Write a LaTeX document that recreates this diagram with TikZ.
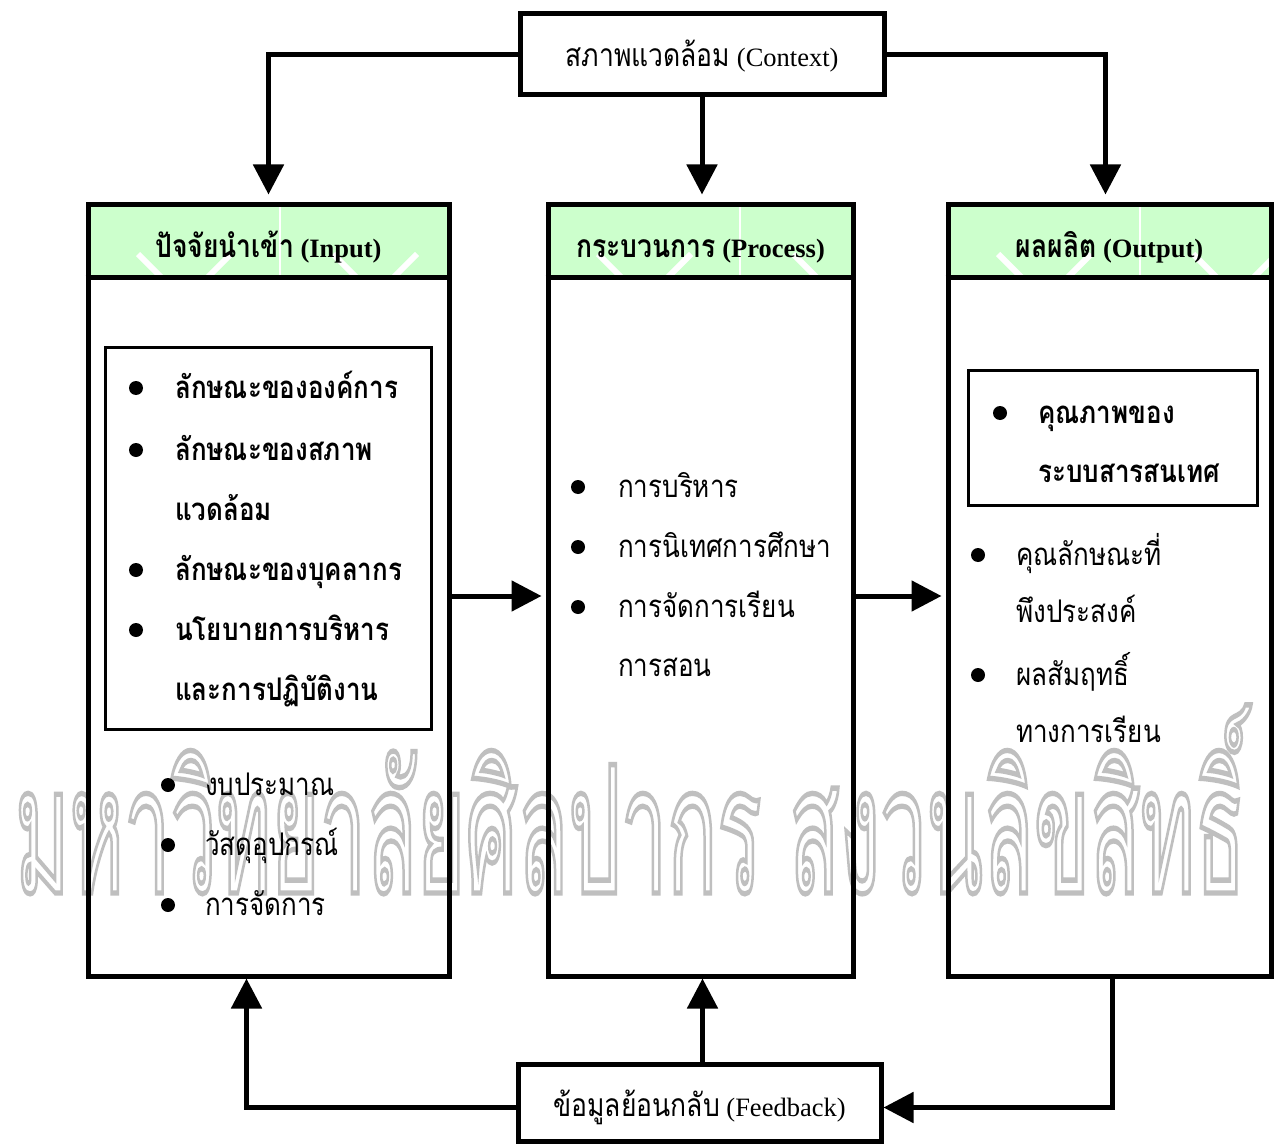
\documentclass[tikz,border=0pt]{standalone}
\usepackage{fontspec}
\setmainfont{Liberation Serif}
\newfontfamily\thai[Script=Thai]{Loma}
\usetikzlibrary{arrows.meta,calc}
\definecolor{hdrgreen}{HTML}{CCFFCC}
\newcommand{\tall}[1]{\scalebox{1}[1.2]{#1}}
\tikzset{
  box/.style={draw, line width=5pt, inner sep=0pt},
  inbox/.style={draw, line width=3pt, inner sep=0pt},
  arr/.style={line width=5pt, -{Triangle[length=30pt,width=30pt]}},
  bul/.style={circle, fill, inner sep=0pt, minimum size=14pt},
  tx/.style={anchor=base west, inner sep=0pt, font=\thai\fontsize{26}{26}\selectfont},
  btx/.style={tx, font=\thai\bfseries\fontsize{26}{26}\selectfont},
  hdr/.style={anchor=base, inner sep=0pt, font=\bfseries\fontsize{26.5}{26.5}\selectfont},
  lbl/.style={anchor=base, inner sep=0pt, font=\fontsize{26.5}{26.5}\selectfont},
  deco/.style={white, line width=6pt},
}
\begin{document}
\begin{tikzpicture}[x=1pt,y=-1pt]
\useasboundingbox[fill=white] (0,0) rectangle (1275,1145);

% watermark
\node[anchor=base west, inner sep=0pt, text=black!25] (wm) at (15,893)
  {\scalebox{1}[2.15]{\resizebox{1230pt}{!}{\special{pdf:code 1 Tr 0.3 w}\thai มหาวิทยาลัยศิลปากร สงวนลิขสิทธิ์\special{pdf:code 0 Tr}}}};

% header fills
\foreach \xa/\xb in {88/449, 548/853, 948/1271} {
  \fill[hdrgreen] (\xa,204) rectangle (\xb,277);
  \begin{scope}
    \clip (\xa,204) rectangle (\xb,277);
    \draw[white, line width=1.5pt] (\xa+192,204) -- (\xa+192,277);
    \draw[deco] (\xa+50,254) -- (\xa+75,279);
    \draw[deco] (\xa+118,279) -- (\xa+143,254);
    \draw[deco] (\xa+245,254) -- (\xa+270,279);
    \draw[deco] (\xa+304,279) -- (\xa+329,254);
  \end{scope}
}

% main boxes
\node[box, minimum width=364pt, minimum height=81pt] (ctx) at (702,54.5) {};
\node[lbl] (ctxt) at (702,67) {{\thai\tall{สภาพแวดล้อม}} (Context)};

\node[box, minimum width=361pt, minimum height=772pt] (inp) at (268.5,590) {};
\node[box, minimum width=305pt, minimum height=772pt] (proc) at (700.5,590) {};
\node[box, minimum width=323pt, minimum height=772pt] (outp) at (1109.5,590) {};

\draw[line width=5pt] (inp.west |- 0,277) -- (inp.east |- 0,277);
\draw[line width=5pt] (proc.west |- 0,277) -- (proc.east |- 0,277);
\draw[line width=5pt] (outp.west |- 0,277) -- (outp.east |- 0,277);

\node[hdr] (inph) at (268.5,257) {{\thai\tall{ปัจจัยนำเข้า}} (Input)};
\node[hdr] (proch) at (700.5,257) {{\thai\tall{กระบวนการ}} (Process)};
\node[hdr] (outh) at (1109.5,257) {{\thai\tall{ผลผลิต}} (Output)};

\node[box, minimum width=363pt, minimum height=77pt] (fb) at (699.5,1102.5) {};
\node[lbl] (fbt) at (699.5,1116) {{\thai\tall{ข้อมูลย้อนกลับ}} (Feedback)};

% input inner box
\node[inbox, minimum width=326pt, minimum height=382pt] (inin) at (268,538) {};
\node[bul] (ib1) at (136,388) {};
\node[bul] (ib2) at (136,450) {};
\node[bul] (ib3) at (136,570) {};
\node[bul] (ib4) at (136,630) {};
\node[btx] (it1) at (175,398) {\tall{ลักษณะขององค์การ}};
\node[btx] (it2) at (175,460) {\tall{ลักษณะของสภาพ}};
\node[btx] (it3) at (175,520) {\tall{แวดล้อม}};
\node[btx] (it4) at (175,580) {\tall{ลักษณะของบุคลากร}};
\node[btx] (it5) at (175,640) {\tall{นโยบายการบริหาร}};
\node[btx] (it6) at (175,700) {\tall{และการปฏิบัติงาน}};

\node[bul] (ib5) at (168,785) {};
\node[bul] (ib6) at (168,845) {};
\node[bul] (ib7) at (168,905) {};
\node[tx] (it7) at (205,795) {\tall{งบประมาณ}};
\node[tx] (it8) at (205,855) {\tall{วัสดุอุปกรณ์}};
\node[tx] (it9) at (205,915) {\tall{การจัดการ}};

% process
\node[bul] (pb1) at (578,487) {};
\node[bul] (pb2) at (578,547) {};
\node[bul] (pb3) at (578,607) {};
\node[tx] (pt1) at (618,497) {\tall{การบริหาร}};
\node[tx] (pt2) at (618,557) {\tall{การนิเทศการศึกษา}};
\node[tx] (pt3) at (618,617) {\tall{การจัดการเรียน}};
\node[tx] (pt4) at (618,676) {\tall{การสอน}};

% output
\node[inbox, minimum width=289pt, minimum height=135pt] (outin) at (1112.5,437.5) {};
\node[bul] (ob1) at (1000,413) {};
\node[btx] (ot1) at (1038,423) {\tall{คุณภาพของ}};
\node[btx] (ot2) at (1038,482) {\tall{ระบบสารสนเทศ}};
\node[bul] (ob2) at (978,555) {};
\node[bul] (ob3) at (978,675) {};
\node[tx] (ot3) at (1016,565) {\tall{คุณลักษณะที่}};
\node[tx] (ot4) at (1016,622) {\tall{พึงประสงค์}};
\node[tx] (ot5) at (1016,685) {\tall{ผลสัมฤทธิ์}};
\node[tx] (ot6) at (1016,742) {\tall{ทางการเรียน}};

% connectors
\coordinate (fbn) at ($(fb.north)+(3,0)$);
\coordinate (outs) at ($(outp.south)+(3,0)$);
\coordinate (fbe) at ($(fb.east)+(0,5)$);
\coordinate (fbw) at ($(fb.west)+(0,5)$);
\coordinate (ins) at ($(inp.south)+(-22,0)$);
\coordinate (outn) at ($(outp.north)+(-4,0)$);
\draw[arr, shorten >=7pt] (ctx.west) -| (inp.north);
\draw[arr, shorten >=7pt] (ctx.south) -- (ctx.south |- proc.north);
\draw[arr, shorten >=7pt] (ctx.east) -| (outn);
\draw[arr, shorten >=4pt] ($(inp.east)+(0,6)$) -- ($(proc.west)+(0,6)$);
\draw[arr, shorten >=4pt] ($(proc.east)+(0,6)$) -- ($(outp.west)+(0,6)$);
\draw[arr] (outs) |- (fbe);
\draw[arr] (fbn) -- (fbn |- proc.south);
\draw[arr] (fbw) -| (ins);
\end{tikzpicture}
\end{document}
